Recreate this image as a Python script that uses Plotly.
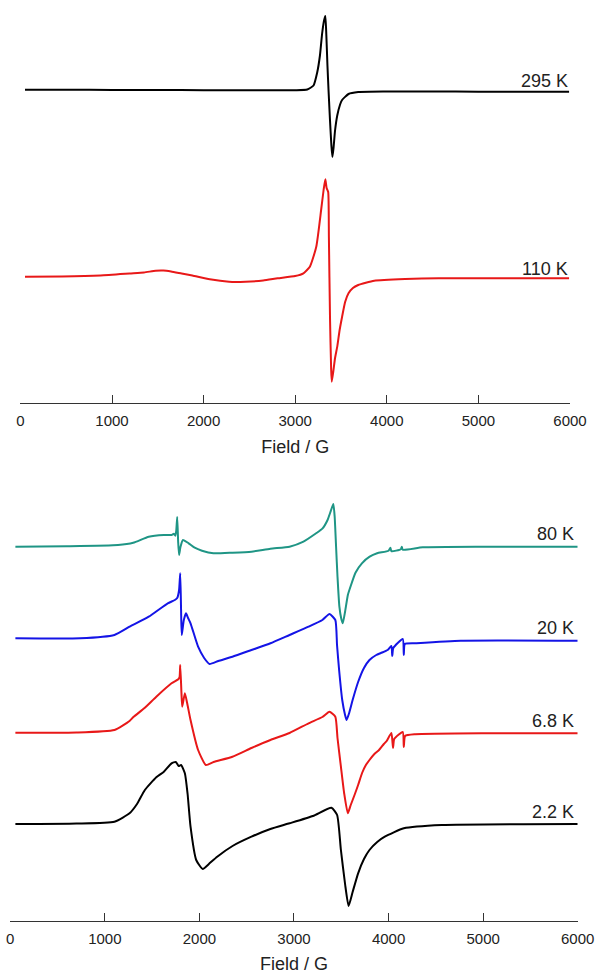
import plotly.graph_objects as go

# ---------------- data ----------------
FIELD_TICKS = [0, 1000, 2000, 3000, 4000, 5000, 6000]

# upper panel
field_295 = [50, 500, 1000, 1500, 2000, 2500, 2800, 3000, 3132, 3200, 3240, 3270, 3294, 3315, 3329,
             3340, 3352, 3364, 3380, 3395, 3406, 3418, 3435, 3459, 3490, 3512, 3582, 3688, 4000,
             4500, 5000, 5500, 5990]
sig_295 = [0.8, 0.8, 0.6, 0.5, 0.3, 0.2, 0.2, 0.3, 1, 5, 18, 35, 57, 70, 74.5,
           55, 25, 0, -30, -55, -66.5, -58, -40, -25, -14, -9.5, -3.5, -1.5, -1,
           -1, -1.2, -1.2, -1.2]

field_110 = [50, 453, 875, 1192, 1350, 1476, 1561, 1645, 1760, 1877, 2067, 2278, 2457, 2650, 2808,
             3000, 3090, 3160, 3230, 3283, 3310, 3329, 3343, 3360, 3368, 3380, 3392, 3399, 3415,
             3435, 3459, 3485, 3512, 3545, 3582, 3630, 3688, 3863, 4200, 4566, 5000, 5500, 5990]
sig_110 = [1.3, 1.5, 2.5, 4.5, 5.5, 7.3, 7.5, 6.5, 4.5, 2.5, -1.3, -3.7, -3.7, -2.5, -0.3,
           2, 4.7, 11.3, 31.3, 68, 88, 98.7, 90, 86, 40, -40, -90, -103.7, -94,
           -80, -68.7, -52, -38.7, -24, -15.3, -10, -7, -2.7, -1, -0.3, -0.3, -0.3, -0.3]

# lower panel
field_80 = [54, 600, 1139, 1300, 1464, 1624, 1705, 1730, 1745, 1755, 1765, 1775, 1785, 1800, 1826,
            1886, 1950, 2027, 2148, 2350, 2550, 2750, 2953, 3100, 3234, 3300, 3355, 3390, 3416,
            3430, 3445, 3460, 3480, 3500, 3516, 3540, 3570, 3597, 3650, 3718, 3800, 3879, 4000,
            4019, 4030, 4130, 4140, 4150, 4362, 5000, 6000]
sig_80 = [0, 0.5, 1.7, 4, 10, 11.7, 11.7, 13, 11, 16, 29.7, 5, -8.3, 0, 6.7,
          3.4, -1, -4, -6.6, -6, -5, -2, 0, 5, 13.4, 18, 26.7, 36, 42.7,
          30, 0, -30, -60, -72, -76.6, -65, -48, -40, -26, -16.6, -10, -6.6, -4,
          -1, -4.5, -2.5, 0, -3, -0.6, 0, 0]

field_20 = [54, 738, 1101, 1261, 1464, 1665, 1740, 1765, 1785, 1797, 1806, 1813, 1835, 1858, 1880,
            1906, 1986, 2050, 2107, 2200, 2349, 2550, 2751, 2953, 3154, 3300, 3375, 3437, 3455,
            3477, 3510, 3540, 3556, 3580, 3620, 3678, 3740, 3798, 3870, 3919, 3990, 4030, 4039,
            4050, 4150, 4161, 4172, 4281, 4764, 6000]
sig_20 = [1.7, 1.7, 5, 13.3, 23.3, 36.7, 40, 42, 50, 66.7, 30, 5, 20, 26.7, 22,
          16.7, -6.7, -18, -24, -21, -16.7, -10, -3.3, 5, 13.3, 20, 26, 20, -5,
          -30, -60, -75, -80, -74, -60, -42, -28, -20, -15, -13, -10, -6, -16,
          -8, 1, -15, -4, -3.3, -0.7, -0.7]

field_68 = [54, 700, 1101, 1261, 1302, 1420, 1544, 1705, 1777, 1790, 1797, 1810, 1818, 1846, 1870,
            1906, 1986, 2068, 2150, 2349, 2550, 2751, 2953, 3154, 3300, 3375, 3437, 3460, 3496,
            3530, 3569, 3600, 3640, 3678, 3720, 3760, 3798, 3850, 3899, 3950, 3980, 4030, 4047,
            4060, 4150, 4161, 4175, 4281, 5000, 6000]
sig_68 = [0.3, 0.5, 3, 12, 16, 25, 36.3, 49.7, 53.7, 56, 68, 40, 26.3, 39.7, 30,
          13, -17, -32, -29, -23.7, -15, -7, 0, 9.7, 16, 21.3, 16.3, -5, -33.7,
          -60, -80.3, -72, -62, -52, -40, -32, -27, -21, -17, -11, -8, 0, -15,
          -6, 1, -14, -3, -1.3, -0.3, -0.3]

field_22 = [54, 700, 1101, 1261, 1340, 1423, 1544, 1624, 1705, 1750, 1780, 1806, 1846, 1875, 1906,
            1966, 2035, 2100, 2188, 2350, 2550, 2750, 2953, 3200, 3396, 3456, 3496, 3540, 3577,
            3620, 3678, 3740, 3798, 3880, 3960, 4161, 4563, 6000]
sig_22 = [0, 0.5, 2.3, 10.7, 20, 34, 46.7, 52.3, 60.7, 62, 58, 59, 50.7, 30, -2.7,
          -36, -45, -40, -32.7, -22, -12.7, -5, 0.7, 8, 16.3, 9, -26, -60, -82,
          -68, -49.3, -35, -26, -18, -12.7, -4.3, -1, 0]

# stacking offsets (baseline of each trace, arbitrary units)
top_labels = ["295 K", "110 K"]
top_offsets = [312.5, 125]
bottom_labels = ["80 K", "20 K", "6.8 K", "2.2 K"]
bottom_offsets = [374.3, 281, 188, 97]

# ---------------- figure ----------------
W, H = 615, 975
FONT = "Liberation Sans, Arial, sans-serif"
TXT = "#222222"

top_series = [(field_295, sig_295, "#000000"), (field_110, sig_110, "#e81818")]
bottom_series = [(field_80, sig_80, "#1f9585"), (field_20, sig_20, "#1414e6"),
                 (field_68, sig_68, "#e81818"), (field_22, sig_22, "#000000")]

LINE = dict(width=2, shape="spline", smoothing=0.5)

fig = go.Figure()
for (fx, sy, col), off in zip(top_series, top_offsets):
    fig.add_trace(go.Scatter(x=fx, y=[off + v for v in sy], mode="lines",
                             line=dict(LINE, color=col), xaxis="x", yaxis="y",
                             showlegend=False, hoverinfo="skip"))
for (fx, sy, col), off in zip(bottom_series, bottom_offsets):
    fig.add_trace(go.Scatter(x=fx, y=[off + v for v in sy], mode="lines",
                             line=dict(LINE, color=col), xaxis="x2", yaxis="y2",
                             showlegend=False, hoverinfo="skip"))

annotations = []
for lab, off in zip(top_labels, top_offsets):
    annotations.append(dict(text=lab, x=6000, y=off + 9.5, xref="x", yref="y",
                            xanchor="right", yanchor="middle", showarrow=False,
                            font=dict(family=FONT, size=18, color=TXT)))
for lab, off in zip(bottom_labels, bottom_offsets):
    annotations.append(dict(text=lab, x=6000, y=off + 12.5, xref="x2", yref="y2",
                            xanchor="right", yanchor="middle", showarrow=False, xshift=-2,
                            font=dict(family=FONT, size=18, color=TXT)))

xax = dict(range=[0, 6000], tickvals=FIELD_TICKS, ticks="inside", ticklen=8, tickwidth=1.4,
           tickcolor="#333333", showline=True, linecolor="#333333", linewidth=1.4,
           showgrid=False, zeroline=False, ticklabelstandoff=4,
           tickfont=dict(family=FONT, size=15, color=TXT))
yax = dict(visible=False, showgrid=False, zeroline=False)

fig.update_layout(
    width=W, height=H, margin=dict(l=0, r=0, t=0, b=0),
    paper_bgcolor="white", plot_bgcolor="white",
    xaxis=dict(xax, domain=[17 / W, 586 / W], anchor="y",
               title=dict(text="Field / G", font=dict(family=FONT, size=18, color=TXT), standoff=12)),
    yaxis=dict(yax, domain=[1 - 403 / H, 1], range=[0, 403]),
    xaxis2=dict(xax, domain=[6.5 / W, 594 / W], anchor="y2",
                title=dict(text="Field / G", font=dict(family=FONT, size=18, color=TXT), standoff=11)),
    yaxis2=dict(yax, domain=[1 - 921 / H, 1 - 480 / H], range=[0, 441]),
    annotations=annotations,
)

fig.write_html("out.html")
